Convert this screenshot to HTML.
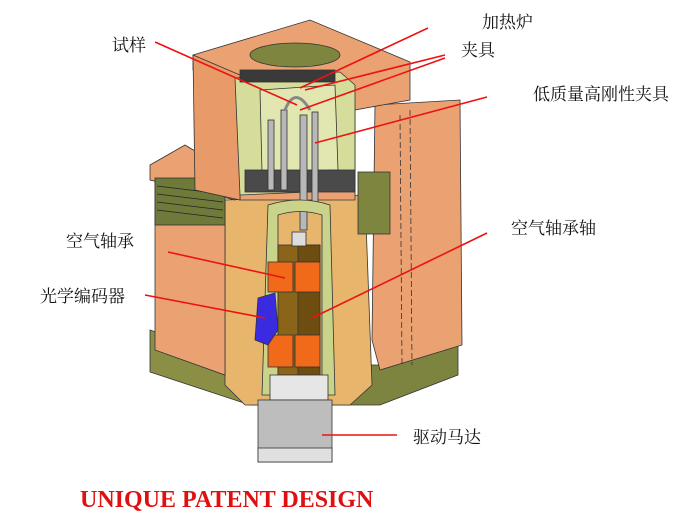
<!DOCTYPE html>
<html><head><meta charset="utf-8"><style>
body{margin:0;background:#fff;width:700px;height:520px;overflow:hidden}
svg{display:block}
text{font-family:"Liberation Serif","Noto Serif CJK SC",serif;font-size:17px;fill:#111}
</style></head><body>
<svg width="700" height="520" viewBox="0 0 700 520">
<g stroke="#333" stroke-width="0.8">
<polygon points="150,330 250,365 250,405 150,372" fill="#8a8f45"/>
<polygon points="250,365 380,365 458,338 458,375 380,405 250,405" fill="#7d8440"/>
<polygon points="225,200 365,195 372,385 350,405 245,405 225,385" fill="#e8b56c"/>
<polygon points="155,170 225,190 225,375 155,350" fill="#eba273"/>
<polygon points="150,165 185,145 235,175 235,200 150,180" fill="#eba273"/>
<rect x="155" y="178" width="70" height="47" fill="#6f7a3a"/>
<g stroke="#222"><line x1="157" y1="186" x2="223" y2="194"/><line x1="157" y1="194" x2="223" y2="202"/><line x1="157" y1="202" x2="223" y2="210"/><line x1="157" y1="210" x2="223" y2="218"/></g>
<polygon points="375,105 460,100 462,345 380,370 372,340" fill="#eba273"/>
<line x1="410" y1="110" x2="412" y2="365" stroke-dasharray="6,3"/>
<line x1="400" y1="115" x2="402" y2="365" stroke-dasharray="6,3"/>
<polygon points="193,55 310,20 410,62 410,100 355,110 355,200 240,200 240,75 193,70" fill="#eba273"/>
<polygon points="193,55 195,190 240,200 240,75" fill="#e89a68"/>
<polygon points="235,78 340,72 355,85 355,190 240,195" fill="#d6dd9a"/>
<polygon points="260,90 335,85 338,170 262,172" fill="#e2e6b0"/>
<ellipse cx="295" cy="55" rx="45" ry="12" fill="#7e853f"/>
<rect x="240" y="70" width="95" height="12" fill="#3a3a3a"/>
<rect x="245" y="170" width="110" height="22" fill="#4a4a4a"/>
<rect x="358" y="172" width="32" height="62" fill="#7e853f"/>
<g fill="#b8b8b8"><rect x="281" y="110" width="6" height="80"/><rect x="300" y="115" width="7" height="115"/><rect x="312" y="112" width="6" height="95"/><rect x="268" y="120" width="6" height="70"/></g>
<path d="M285,110 Q295,85 310,110" fill="none" stroke="#888" stroke-width="3"/>
<path d="M268,205 Q300,195 330,205 L335,395 L322,395 L322,215 Q300,208 278,215 L278,395 L262,395 Z" fill="#c9d48a"/>
<rect x="278" y="245" width="42" height="130" fill="#8a6418"/>
<rect x="298" y="245" width="22" height="130" fill="#6d4e10"/>
<rect x="292" y="232" width="14" height="14" fill="#ddd"/>
<g fill="#f06a1a"><rect x="268" y="262" width="25" height="30"/><rect x="295" y="262" width="25" height="30"/><rect x="268" y="335" width="25" height="32"/><rect x="295" y="335" width="25" height="32"/></g>
<polygon points="258,298 275,293 278,330 268,345 255,340" fill="#3a2ae0"/>
<rect x="270" y="375" width="58" height="25" fill="#e6e6e6"/>
<rect x="258" y="400" width="74" height="62" fill="#bdbdbd"/>
<rect x="258" y="448" width="74" height="14" fill="#e0e0e0"/>
</g>
<g stroke="#ee1111" stroke-width="1.6">
<line x1="155" y1="42" x2="297" y2="105"/>
<line x1="428" y1="28" x2="300" y2="88"/>
<line x1="445" y1="55" x2="305" y2="90"/>
<line x1="445" y1="58" x2="300" y2="110"/>
<line x1="487" y1="97" x2="315" y2="143"/>
<line x1="168" y1="252" x2="285" y2="278"/>
<line x1="145" y1="295" x2="265" y2="318"/>
<line x1="487" y1="233" x2="312" y2="318"/>
<line x1="397" y1="435" x2="322" y2="435"/>
</g>
<text x="112" y="51">试样</text>
<text x="482" y="28">加热炉</text>
<text x="461" y="56">夹具</text>
<text x="533" y="100">低质量高刚性夹具</text>
<text x="66" y="247">空气轴承</text>
<text x="40" y="302">光学编码器</text>
<text x="511" y="234">空气轴承轴</text>
<text x="413" y="443">驱动马达</text>
<text x="80" y="507" style="font-family:'Liberation Serif',serif;font-weight:bold;font-size:24px;fill:#e01010">UNIQUE PATENT DESIGN</text>
</svg>
</body></html>
